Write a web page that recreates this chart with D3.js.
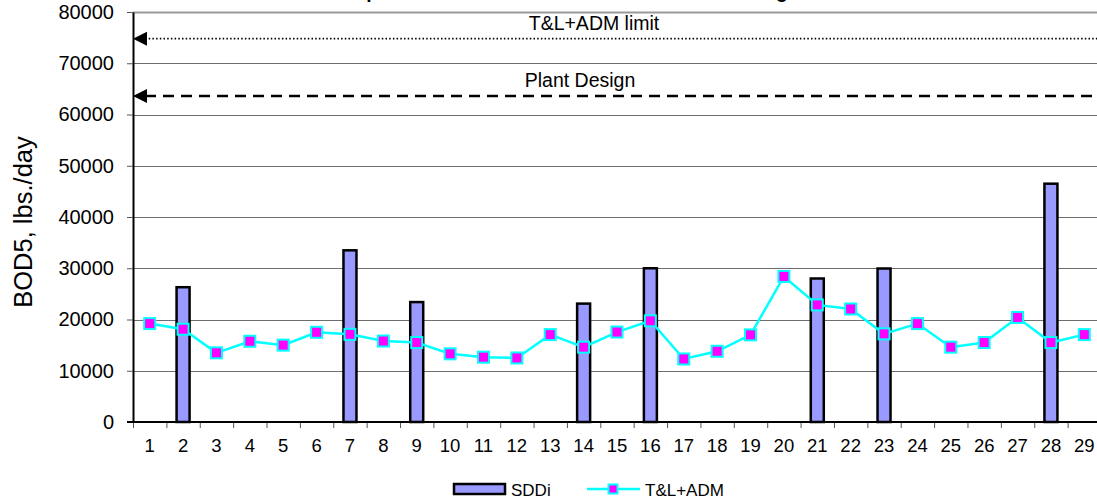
<!DOCTYPE html>
<html>
<head>
<meta charset="utf-8">
<script src="https://cdn.jsdelivr.net/npm/d3@7"></script>
<style>
  html, body { margin: 0; padding: 0; background: #fff; }
  svg { display: block; font-family: "Liberation Sans", Arial, sans-serif; }
</style>
</head>
<body>
<div id="chart"></div>
<script>
// Days of the month shown on the x axis
const days = d3.range(1, 30).map(String);

// SDDi loads (lbs./day), only on the days it was discharged
const sddi = [
  { day: '2', value: 26300 },
  { day: '7', value: 33500 },
  { day: '9', value: 23400 },
  { day: '14', value: 23100 },
  { day: '16', value: 30000 },
  { day: '21', value: 28000 },
  { day: '23', value: 29950 },
  { day: '28', value: 46500 }
];

// T&L+ADM loads, one per day
const tlAdm = [19200, 18100, 13500, 15750, 15000, 17500, 17100, 15800, 15500, 13300,
               12650, 12500, 17050, 14600, 17550, 19750, 12300, 13800, 17000, 28400,
               22850, 22050, 17200, 19200, 14600, 15500, 20400, 15500, 17050];

// Reference levels
const limits = [
  { name: 'T&L+ADM limit', value: 74800, dash: '1.5,2.2', width: 1.6 },
  { name: 'Plant Design', value: 63600, dash: '11,7', width: 2.5 }
];

const yTicks = d3.range(0, 80001, 10000);
const legendItems = ['SDDi', 'T&L+ADM'];
const title = 'Comparison of SDDi and T&L+ADM BOD5 Loadings';
const yLabel = 'BOD5, lbs./day';

const W = 1097, H = 502;
const plot = { left: 133, right: 1101, top: 12, bottom: 422 };

const svg = d3.select('#chart').append('svg')
  .attr('width', W)
  .attr('height', H);

const x = d3.scaleBand().domain(days).range([plot.left, plot.right]).padding(0);
const xEdge = d3.scaleLinear().domain([0, days.length]).range([plot.left, plot.right]);
const y = d3.scaleLinear().domain([0, 80000]).range([plot.bottom, plot.top]);

// Gridlines
svg.append('g')
  .selectAll('line')
  .data(yTicks.filter(d => d > 0))
  .join('line')
  .attr('x1', plot.left).attr('x2', plot.right)
  .attr('y1', d => Math.round(y(d)) + 0.5).attr('y2', d => Math.round(y(d)) + 0.5)
  .attr('stroke', d => d === 80000 ? '#999' : '#6e6e6e')
  .attr('stroke-width', d => d === 80000 ? 2 : 1);

// Title (cut off at the top of the picture, as in the source)
svg.append('text')
  .attr('x', 561).attr('y', -2)
  .attr('text-anchor', 'middle')
  .style('font-size', '19.3px').style('font-weight', 'bold')
  .text(title);

// Y axis
const yAxis = svg.append('g')
  .attr('transform', `translate(${plot.left},0)`)
  .call(d3.axisLeft(y).tickValues(yTicks).tickSize(6).tickSizeOuter(0).tickPadding(13).tickFormat(d3.format('d')));
yAxis.select('.domain').attr('stroke', '#000').attr('stroke-width', 2);
yAxis.selectAll('.tick line').attr('stroke', '#555');
yAxis.selectAll('text').style('font-size', '20px').attr('fill', '#000')
  .style('font-family', '"Liberation Sans", Arial, sans-serif');

svg.append('text')
  .attr('transform', `translate(32,${(plot.top + plot.bottom) / 2 + 5}) rotate(-90)`)
  .attr('text-anchor', 'middle')
  .style('font-size', '25.5px')
  .text(yLabel);

// X axis: tick marks at band edges, labels at centres
const xTickAxis = svg.append('g')
  .attr('transform', `translate(0,${plot.bottom})`)
  .call(d3.axisBottom(xEdge).tickValues(d3.range(0, days.length + 1)).tickSize(6).tickFormat(''));
xTickAxis.select('.domain').remove();
xTickAxis.selectAll('.tick line').attr('stroke', '#555');

const xAxis = svg.append('g')
  .attr('transform', `translate(0,${plot.bottom})`)
  .call(d3.axisBottom(x).tickSize(0).tickPadding(17));
xAxis.select('.domain').remove();
xAxis.selectAll('text').style('font-size', '18.5px').attr('fill', '#000')
  .style('font-family', '"Liberation Sans", Arial, sans-serif');

svg.append('line')
  .attr('x1', plot.left - 6).attr('x2', plot.right)
  .attr('y1', plot.bottom).attr('y2', plot.bottom)
  .attr('stroke', '#000').attr('stroke-width', 2);

// Reference lines
svg.append('g')
  .selectAll('line')
  .data(limits)
  .join('line')
  .attr('x1', plot.left + 12).attr('x2', W)
  .attr('y1', d => y(d.value)).attr('y2', d => y(d.value))
  .attr('stroke', '#000')
  .attr('stroke-width', d => d.width)
  .attr('stroke-dasharray', d => d.dash);

// Arrow heads pointing at the axis
svg.append('g')
  .selectAll('path')
  .data(limits)
  .join('path')
  .attr('d', d => `M${plot.left},${y(d.value)} l14,-7 l0,14 Z`)
  .attr('fill', '#000');

const labelX = [594, 580];
svg.append('g')
  .selectAll('text')
  .data(limits)
  .join('text')
  .attr('x', (d, i) => labelX[i])
  .attr('y', d => y(d.value) - 9)
  .attr('text-anchor', 'middle')
  .style('font-size', '19.5px')
  .text(d => d.name);

// SDDi bars
const barW = 13;
svg.append('g')
  .selectAll('rect')
  .data(sddi)
  .join('rect')
  .attr('x', d => x(d.day) + x.bandwidth() / 2 - barW / 2)
  .attr('y', d => y(d.value))
  .attr('width', barW)
  .attr('height', d => y(0) - y(d.value))
  .attr('fill', '#9999ff')
  .attr('stroke', '#000')
  .attr('stroke-width', 2.5);

// T&L+ADM line
const cx = (d, i) => x(days[i]) + x.bandwidth() / 2;
svg.append('path')
  .datum(tlAdm)
  .attr('fill', 'none')
  .attr('stroke', '#00ffff')
  .attr('stroke-width', 2.5)
  .attr('d', d3.line().x(cx).y(d => y(d)));

const mk = 11;
svg.append('g')
  .selectAll('rect')
  .data(tlAdm)
  .join('rect')
  .attr('x', (d, i) => cx(d, i) - mk / 2)
  .attr('y', d => y(d) - mk / 2)
  .attr('width', mk).attr('height', mk)
  .attr('fill', '#ff00ff')
  .attr('stroke', '#00ffff')
  .attr('stroke-width', 2);

// Legend
const lg = svg.append('g').attr('transform', 'translate(0,489)');
lg.append('rect')
  .attr('x', 454).attr('y', -5).attr('width', 51).attr('height', 10)
  .attr('fill', '#9999ff').attr('stroke', '#000').attr('stroke-width', 2.5);
lg.append('text').attr('x', 511).attr('y', 7).style('font-size', '17px').text(legendItems[0]);
lg.append('line')
  .attr('x1', 587).attr('x2', 640).attr('y1', 0).attr('y2', 0)
  .attr('stroke', '#00ffff').attr('stroke-width', 2.5);
lg.append('rect')
  .attr('x', 613 - 4.5).attr('y', -4.5).attr('width', 9).attr('height', 9)
  .attr('fill', '#ff00ff').attr('stroke', '#00ffff').attr('stroke-width', 2);
lg.append('text').attr('x', 645).attr('y', 7).style('font-size', '17px').text(legendItems[1]);
</script>
</body>
</html>
